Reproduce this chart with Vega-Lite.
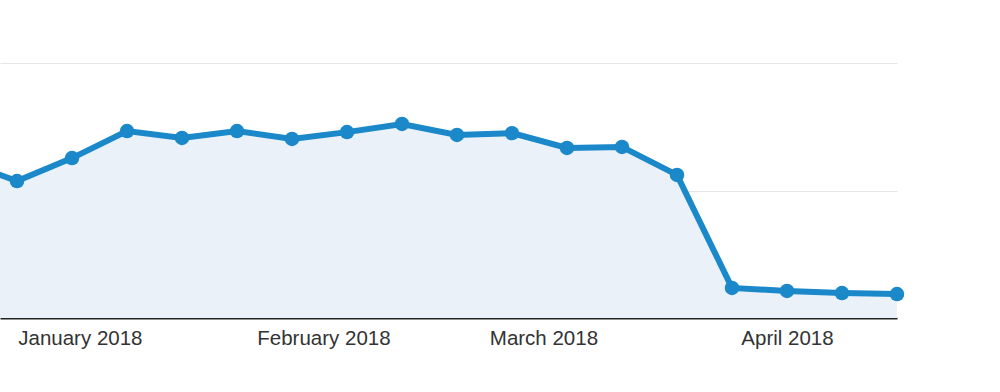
{
  "$schema": "https://vega.github.io/schema/vega-lite/v6.json",
  "autosize": "none",
  "width": 897,
  "height": 255,
  "padding": {"left": 0, "top": 63, "right": 103, "bottom": 74},
  "background": "#ffffff",
  "config": {
    "view": {"stroke": null},
    "font": "Liberation Sans"
  },
  "data": {
    "values": [
      {"week": "2017-12-17", "sessions": 61.6},
      {"week": "2017-12-24", "sessions": 53.7},
      {"week": "2017-12-31", "sessions": 62.7},
      {"week": "2018-01-07", "sessions": 73.3},
      {"week": "2018-01-14", "sessions": 70.6},
      {"week": "2018-01-21", "sessions": 73.3},
      {"week": "2018-01-28", "sessions": 70.2},
      {"week": "2018-02-04", "sessions": 72.9},
      {"week": "2018-02-11", "sessions": 76.1},
      {"week": "2018-02-18", "sessions": 71.8},
      {"week": "2018-02-25", "sessions": 72.5},
      {"week": "2018-03-04", "sessions": 66.7},
      {"week": "2018-03-11", "sessions": 67.1},
      {"week": "2018-03-18", "sessions": 56.1},
      {"week": "2018-03-25", "sessions": 11.8},
      {"week": "2018-04-01", "sessions": 10.6},
      {"week": "2018-04-08", "sessions": 9.8},
      {"week": "2018-04-15", "sessions": 9.4}
    ]
  },
  "encoding": {
    "x": {
      "field": "week",
      "type": "temporal",
      "scale": {
        "type": "utc",
        "domain": [
          {"year": 2017, "month": 12, "date": 21, "hours": 20, "minutes": 4, "utc": true},
          {"year": 2018, "month": 4, "date": 15, "utc": true}
        ]
      },
      "axis": {
        "title": null,
        "values": [
          {"year": 2018, "month": 1, "date": 1, "utc": true},
          {"year": 2018, "month": 2, "date": 1, "utc": true},
          {"year": 2018, "month": 3, "date": 1, "utc": true},
          {"year": 2018, "month": 4, "date": 1, "utc": true}
        ],
        "format": "%B %Y",
        "ticks": false,
        "grid": false,
        "domain": true,
        "domainColor": "#222222",
        "domainWidth": 2,
        "labelFontSize": 20.5,
        "labelColor": "#333333",
        "labelPadding": 10,
        "labelFont": "Liberation Sans"
      }
    },
    "y": {
      "field": "sessions",
      "type": "quantitative",
      "scale": {"domain": [0, 100], "nice": false, "zero": true},
      "axis": {
        "title": null,
        "labels": false,
        "ticks": false,
        "domain": false,
        "values": [50, 100],
        "grid": true,
        "gridColor": "#e6e6e6",
        "gridWidth": 1
      }
    }
  },
  "layer": [
    {
      "mark": {"type": "area", "color": "#eaf1f8", "clip": true}
    },
    {
      "mark": {"type": "line", "color": "#1a88c9", "strokeWidth": 6, "clip": true}
    },
    {
      "mark": {"type": "point", "filled": true, "color": "#1a88c9", "opacity": 1, "size": 210}
    }
  ]
}
